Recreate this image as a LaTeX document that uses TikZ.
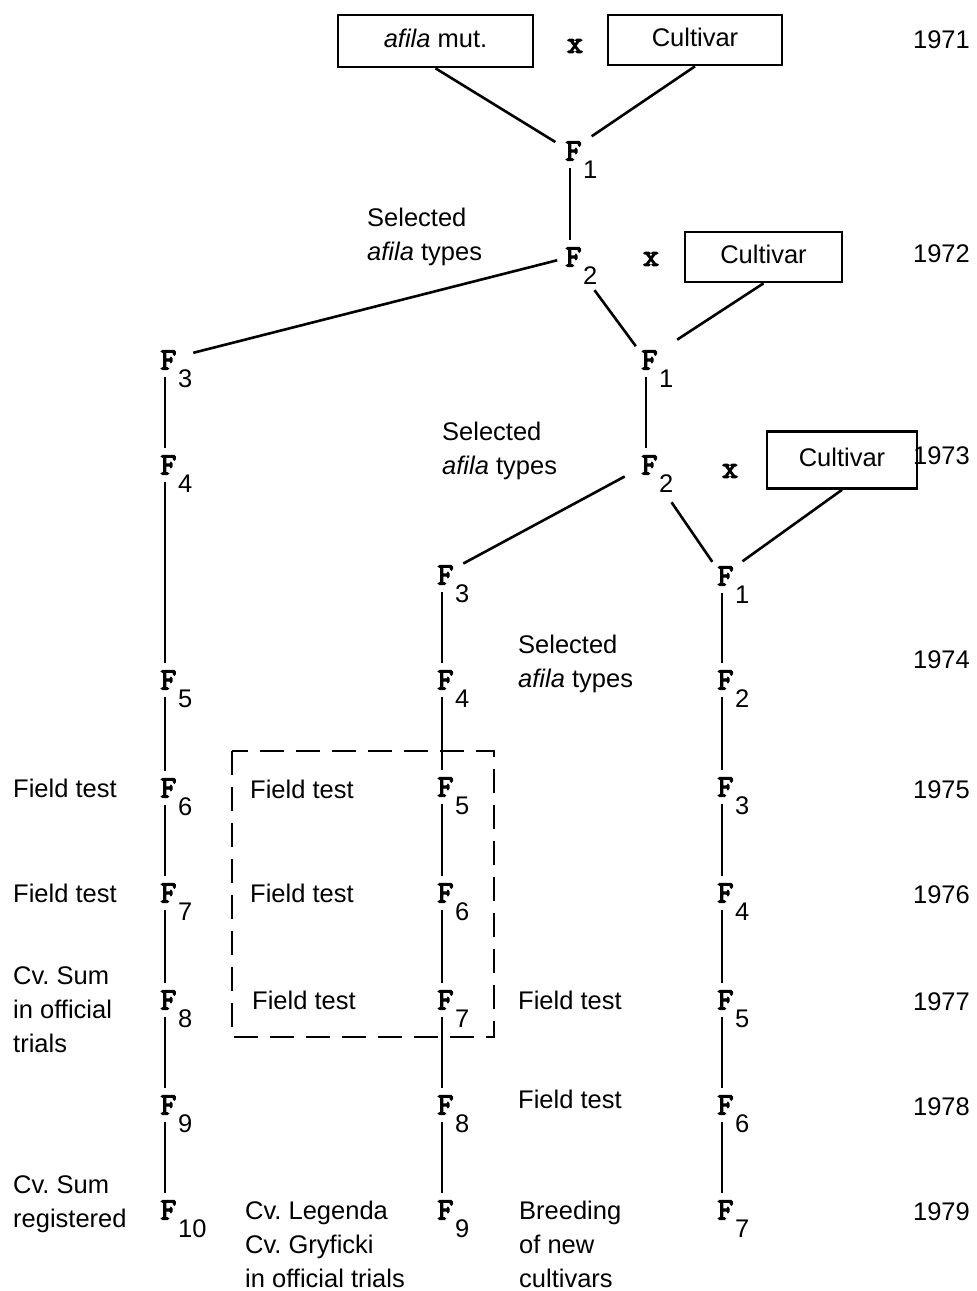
\documentclass[tikz,border=0pt]{standalone}
\usepackage{fontspec}
\setmainfont{Liberation Sans}
\newfontfamily\cour{Latin Modern Mono}[FakeBold=4]
\usetikzlibrary{calc}
\newcommand\txtf{\fontsize{25.5}{34}\selectfont\frenchspacing}
\newcommand\Ff{\cour\fontsize{31}{33}\selectfont}
\newcommand\Fg{\makebox[0pt][l]{\kern-4.5pt F}}
\newcommand\fgen[4]{\node[fn] (#1) at (#2,#3) {\Fg}; \node[subn] (#1s) at ($(#1)+(13,18)$) {#4};}
\tikzset{
  fn/.style={circle, inner sep=0pt, minimum size=34pt, font=\Ff},
  subn/.style={font=\txtf, inner sep=0pt, anchor=west, text height=18pt, text depth=0pt},
  lbl/.style={font=\txtf, inner sep=0pt, anchor=west, align=left},
  yr/.style={font=\txtf, inner sep=0pt, anchor=east},
  boxn/.style={draw, line width=2.6pt, inner sep=0pt, font=\txtf},
  xn/.style={font=\Ff, inner sep=0pt},
  link/.style={line width=2.6pt},
  vline/.style={line width=2.3pt},
  dashbox/.style={line width=2.2pt, dash pattern=on 24pt off 12pt}
}
\begin{document}
\begin{tikzpicture}[x=1pt,y=-1pt]
\useasboundingbox (0,0) rectangle (977,1291);
% boxes
\node[boxn, minimum width=195pt, minimum height=52pt] (afila) at (435.5,41) {\textit{afila} mut.\strut};
\node[boxn, minimum width=174pt, minimum height=50pt] (cv1) at (695,40) {Cultivar\strut};
\node[boxn, minimum width=157pt, minimum height=50pt] (cv2) at (763.5,257) {Cultivar\strut};
\node[boxn, minimum width=150pt, minimum height=57pt] (cv3) at (842,460) {Cultivar\strut};
\node[xn] (x1) at (575,46) {x};
\node[xn] (x2) at (651,259) {x};
\node[xn] (x3) at (730,471) {x};
% F nodes
\fgen{T1}{570}{151}{1}
\fgen{T2}{570}{257}{2}
\fgen{M1}{646}{360}{1}
\fgen{M2}{646}{465}{2}
\fgen{L3}{165}{360}{3}
\fgen{L4}{165}{465}{4}
\fgen{L5}{165}{680}{5}
\fgen{L6}{165}{788}{6}
\fgen{L7}{165}{893}{7}
\fgen{L8}{165}{1000}{8}
\fgen{L9}{165}{1105}{9}
\fgen{L10}{165}{1210}{10}
\fgen{C3}{442}{575}{3}
\fgen{C4}{442}{680}{4}
\fgen{C5}{442}{787}{5}
\fgen{C6}{442}{893}{6}
\fgen{C7}{442}{1000}{7}
\fgen{C8}{442}{1105}{8}
\fgen{C9}{442}{1210}{9}
\fgen{R1}{722}{576}{1}
\fgen{R2}{722}{680}{2}
\fgen{R3}{722}{787}{3}
\fgen{R4}{722}{893}{4}
\fgen{R5}{722}{1000}{5}
\fgen{R6}{722}{1105}{6}
\fgen{R7}{722}{1210}{7}
% connectors
\draw[link] (afila.south) -- (T1);
\draw[link, shorten >=9pt] (cv1.south) -- (T1);
\draw[vline] (T1) -- (T2);
\draw[link, shorten <=-4pt, shorten >=12pt] (T2) -- (L3);
\draw[link, shorten <=24pt] (T2) -- (M1);
\draw[link, shorten >=20pt] (cv2.south) -- (M1);
\draw[vline] (M1) -- (M2);
\draw[link, shorten <=7pt, shorten >=7pt] (M2) -- (C3);
\draw[link, shorten <=28pt] (M2) -- (R1);
\draw[link, shorten >=8pt] (cv3.south) -- (R1);
\draw[vline] (L3) -- (L4) -- (L5) -- (L6) -- (L7) -- (L8) -- (L9) -- (L10);
\draw[vline] (C3) -- (C4) -- (C5) -- (C6) -- (C7) -- (C8) -- (C9);
\draw[vline] (R1) -- (R2) -- (R3) -- (R4) -- (R5) -- (R6) -- (R7);
% dashed box
\draw[dashbox] (232,751) rectangle (494,1037);
% labels
\node[lbl] (s1) at (367,237) {Selected\strut\\\textit{afila} types\strut};
\node[lbl] (s2) at (442,451) {Selected\strut\\\textit{afila} types\strut};
\node[lbl] (s3) at (518,664) {Selected\strut\\\textit{afila} types\strut};
\node[lbl] (l1) at (13,791) {Field test\strut};
\node[lbl] (l2) at (13,896) {Field test\strut};
\node[lbl] (l3) at (13,1012) {Cv. Sum\strut\\in official\strut\\trials\strut};
\node[lbl] (l4) at (13,1204) {Cv. Sum\strut\\registered\strut};
\node[lbl] (m1) at (250,792) {Field test\strut};
\node[lbl] (m2) at (250,896) {Field test\strut};
\node[lbl] (m3) at (252,1003) {Field test\strut};
\node[lbl] (m4) at (245,1247) {Cv. Legenda\strut\\Cv. Gryficki\strut\\in official trials\strut};
\node[lbl] (r1) at (518,1003) {Field test\strut};
\node[lbl] (r2) at (518,1102) {Field test\strut};
\node[lbl] (r3) at (519,1247) {Breeding\strut\\of new\strut\\cultivars\strut};
% years
\node[yr] (y71) at (970,42) {1971\strut};
\node[yr] (y72) at (970,256) {1972\strut};
\node[yr] (y73) at (970,458) {1973\strut};
\node[yr] (y74) at (970,662) {1974\strut};
\node[yr] (y75) at (970,792) {1975\strut};
\node[yr] (y76) at (970,897) {1976\strut};
\node[yr] (y77) at (970,1004) {1977\strut};
\node[yr] (y78) at (970,1109) {1978\strut};
\node[yr] (y79) at (970,1214) {1979\strut};
\end{tikzpicture}
\end{document}
